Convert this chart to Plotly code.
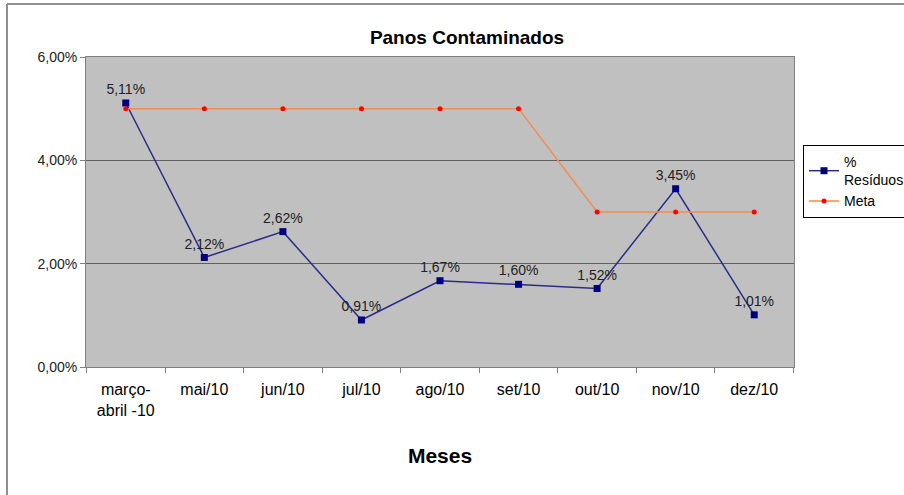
import plotly.graph_objects as go

# Monthly figures for contaminated cloths
meses = ["março-<br>abril -10", "mai/10", "jun/10", "jul/10", "ago/10",
         "set/10", "out/10", "nov/10", "dez/10"]
residuos = [5.11, 2.12, 2.62, 0.91, 1.67, 1.60, 1.52, 3.45, 1.01]
meta = [5, 5, 5, 5, 5, 5, 3, 3, 3]
y_ticks = [0, 2, 4, 6]
y_tick_text = ["0,00%", "2,00%", "4,00%", "6,00%"]

W, H = 904, 495
L, R, T, B = 86, 110, 57, 128
pw, ph = W - L - R, H - T - B


def px_x(px):
    return (px - L) / pw


def px_y(py):
    return (H - B - py) / ph


fig = go.Figure()
fig.add_trace(go.Scatter(
    x=meses, y=residuos, name="%<br>Resíduos", mode="lines+markers+text",
    line=dict(color="#2B2B8A", width=1.5),
    marker=dict(symbol="square", size=7, color="#000080"),
    text=residuos, texttemplate="%{y:.2f}%", textposition="top center",
    textfont=dict(family="Arial", size=14, color="#222222"),
))
fig.add_trace(go.Scatter(
    x=meses, y=meta, name="Meta", mode="lines+markers",
    line=dict(color="#F58A4E", width=1.5),
    marker=dict(symbol="circle", size=5, color="#FF0000"),
))

fig.update_layout(
    width=W, height=H,
    margin=dict(l=L, r=R, t=T, b=B, autoexpand=False),
    paper_bgcolor="white", plot_bgcolor="#C0C0C0",
    separators=",.",
    font=dict(family="Arial", size=14, color="black"),
    title=dict(text="<b>Panos Contaminados</b>", x=px_x(467), xref="paper",
               xanchor="center", y=1 - 37 / H, yanchor="middle",
               font=dict(family="Arial", size=19, color="black")),
    showlegend=True,
    legend=dict(x=px_x(803), y=px_y(145), xanchor="left", yanchor="top",
                bgcolor="white", bordercolor="black", borderwidth=1,
                font=dict(family="Arial", size=14, color="black"),
                tracegroupgap=0, itemwidth=30),
    xaxis=dict(type="category", tickson="boundaries", ticks="outside",
               ticklen=5, tickcolor="#808080", showgrid=False,
               showline=True, linecolor="#808080", mirror=True,
               ticklabelstandoff=8,
               tickfont=dict(family="Arial", size=16, color="black"),
               title=dict(text="<b>Meses</b>", standoff=30,
                          font=dict(family="Arial", size=21, color="black"))),
    yaxis=dict(range=[0, 6], tickvals=y_ticks, ticktext=y_tick_text,
               ticks="outside", ticklen=5, tickcolor="#808080",
               showgrid=True, gridcolor="#606060", gridwidth=1,
               showline=True, linecolor="#808080", mirror=True,
               zeroline=False,
               tickfont=dict(family="Arial", size=14, color="#222222")),
    shapes=[
        dict(type="line", xref="paper", yref="paper",
             x0=px_x(7), x1=px_x(910), y0=px_y(4), y1=px_y(4),
             line=dict(color="#909090", width=2)),
        dict(type="line", xref="paper", yref="paper",
             x0=px_x(7), x1=px_x(7), y0=px_y(4), y1=px_y(500),
             line=dict(color="#909090", width=2)),
    ],
)

fig.write_html("out.html")
